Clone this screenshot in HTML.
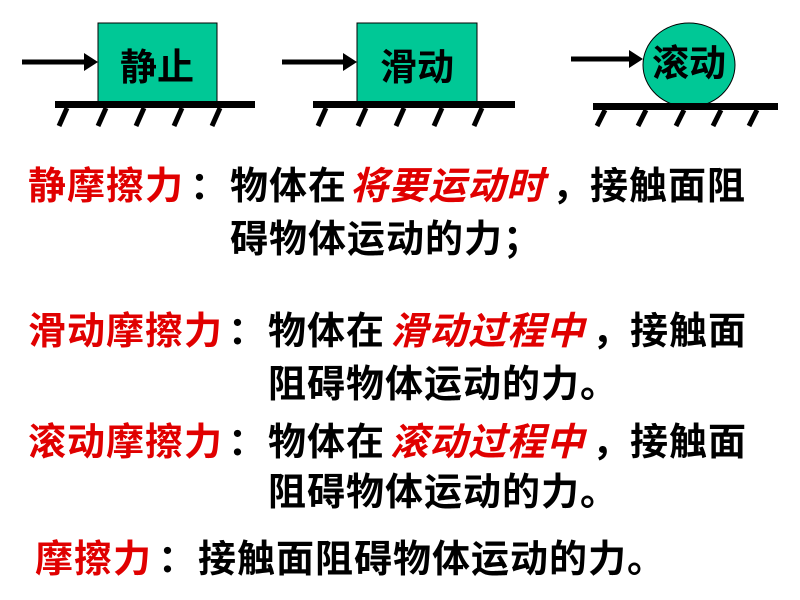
<!DOCTYPE html>
<html><head><meta charset="utf-8"><style>
body{margin:0;width:800px;height:600px;background:#fff;position:relative;overflow:hidden;font-family:"Liberation Sans","Noto Sans CJK SC",sans-serif;font-weight:bold}
.t{position:absolute;font-size:38px;letter-spacing:1px;line-height:40px;white-space:nowrap;color:#000}
.r{color:#e00000}
.i{color:#e00000;font-style:italic}
</style></head><body>
<svg width="800" height="140" style="position:absolute;left:0;top:0">
<g fill="#00c896" stroke="#000" stroke-width="1">
<rect x="98" y="23" width="119" height="80"/>
<rect x="357" y="23" width="120" height="80"/>
<ellipse cx="689" cy="65" rx="46" ry="42"/>
</g>
<g stroke="#000" stroke-width="5">
<line x1="22" y1="62" x2="86" y2="62"/>
<line x1="282" y1="62" x2="345" y2="62"/>
<line x1="571" y1="59" x2="631" y2="59"/>
</g>
<g fill="#000">
<path d="M84,53 L98,62 L84,71z"/><path d="M343,53 L357,62 L343,71z"/><path d="M629,50 L643,59 L629,68z"/>
<rect x="55" y="101" width="200" height="7"/>
<rect x="313" y="101" width="202" height="7"/>
<rect x="593" y="103" width="185" height="7"/>
</g>
<g stroke="#000" stroke-width="5">
<path d="M67,108 L59,126 M106,108 L98,126 M144,108 L136,126 M182,108 L174,126 M220,108 L212,126"/>
<path d="M326,108 L318,126 M366,108 L358,126 M404,108 L396,126 M442,108 L434,126 M482,108 L474,126"/>
<path d="M605,110 L597,126 M646,110 L638,126 M684,110 L676,126 M721,110 L713,126 M757,110 L749,126"/>
</g>
<g font-family="Liberation Sans,Noto Sans CJK SC,sans-serif" font-size="37" font-weight="bold" fill="#000" text-anchor="middle">
<text x="157" y="80">静止</text>
<text x="417" y="80">滑动</text>
<text x="689" y="76">滚动</text>
</g>
</svg>
<div class="t r" style="left:28px;top:167px">静摩擦力</div>
<div class="t" style="left:190px;top:167px">：</div>
<div class="t" style="left:230px;top:167px">物体在</div>
<div class="t i" style="left:350px;top:167px">将要运动时</div>
<div class="t" style="left:552px;top:167px">，</div>
<div class="t" style="left:590px;top:167px">接触面阻</div>
<div class="t" style="left:230px;top:220px">碍物体运动的力；</div>

<div class="t r" style="left:28px;top:312px">滑动摩擦力</div>
<div class="t" style="left:228px;top:312px">：</div>
<div class="t" style="left:268px;top:312px">物体在</div>
<div class="t i" style="left:390px;top:312px">滑动过程中</div>
<div class="t" style="left:592px;top:312px">，</div>
<div class="t" style="left:630px;top:312px">接触面</div>
<div class="t" style="left:268px;top:365px">阻碍物体运动的力。</div>

<div class="t r" style="left:28px;top:423px">滚动摩擦力</div>
<div class="t" style="left:228px;top:423px">：</div>
<div class="t" style="left:268px;top:423px">物体在</div>
<div class="t i" style="left:390px;top:423px">滚动过程中</div>
<div class="t" style="left:592px;top:423px">，</div>
<div class="t" style="left:630px;top:423px">接触面</div>
<div class="t" style="left:268px;top:473px">阻碍物体运动的力。</div>

<div class="t r" style="left:35px;top:540px">摩擦力</div>
<div class="t" style="left:158px;top:540px">：</div>
<div class="t" style="left:198px;top:540px">接触面阻碍物体运动的力。</div>
</body></html>
